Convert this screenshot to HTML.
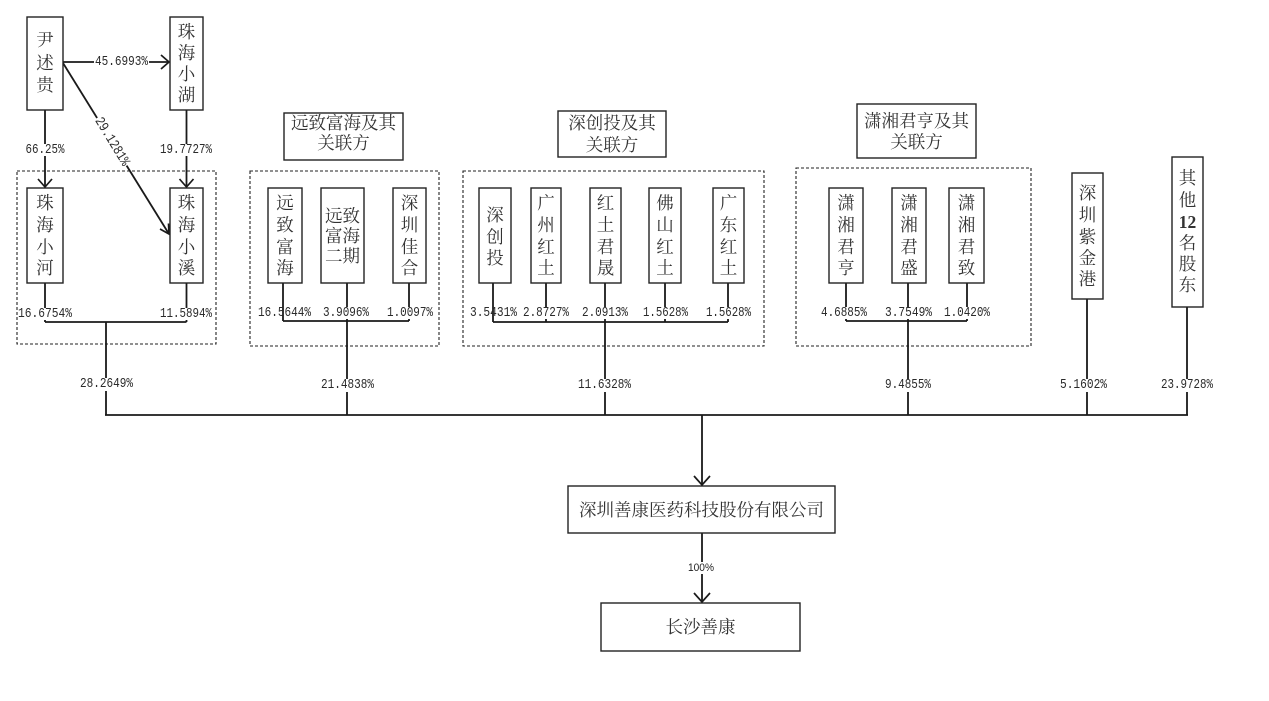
<!DOCTYPE html>
<html><head><meta charset="utf-8">
<style>
html,body{margin:0;padding:0;background:#fff;}
svg{display:block;}
.c{font-family:"Liberation Serif","Noto Serif CJK SC",serif;font-size:17.5px;fill:#333;text-anchor:middle;dominant-baseline:central;}
.p{font-family:"Liberation Mono","Noto Sans CJK SC",monospace;font-size:14px;fill:#2a2a2a;text-anchor:middle;dominant-baseline:central;}
.box{fill:#fff;stroke:#222;stroke-width:1.4;}
.dash{fill:none;stroke:#222;stroke-width:1.1;stroke-dasharray:3 2;}
.ln{stroke:#1a1a1a;stroke-width:1.8;fill:none;}
.ar{stroke:#1a1a1a;stroke-width:1.7;fill:none;stroke-linejoin:miter;}
.wb{fill:#fff;}
</style></head>
<body>
<svg width="1269" height="701" viewBox="0 0 1269 701" xmlns="http://www.w3.org/2000/svg">
<!-- dashed groups -->
<rect class="dash" x="17" y="171" width="199" height="173"/>
<rect class="dash" x="250" y="171" width="189" height="175"/>
<rect class="dash" x="463" y="171" width="301" height="175"/>
<rect class="dash" x="796" y="168" width="235" height="178"/>

<!-- connectors -->
<line class="ln" x1="63" y1="62" x2="169" y2="62"/>
<polyline class="ar" points="161,55 169,62 161,69"/>
<line class="ln" x1="45" y1="110" x2="45" y2="187"/>
<polyline class="ar" points="38,179 45,187 52,179"/>
<line class="ln" x1="186.5" y1="110" x2="186.5" y2="187"/>
<polyline class="ar" points="179.5,179 186.5,187 193.5,179"/>
<line class="ln" x1="63" y1="63" x2="169" y2="234"/>
<polyline class="ar" points="168.5,223.5 169,234 160,229"/>

<line class="ln" x1="45" y1="283" x2="45" y2="322"/>
<line class="ln" x1="186.5" y1="283" x2="186.5" y2="322"/>
<line class="ln" x1="45" y1="322" x2="186.5" y2="322"/>
<line class="ln" x1="106" y1="322" x2="106" y2="415"/>

<line class="ln" x1="283" y1="283" x2="283" y2="321"/>
<line class="ln" x1="347" y1="283" x2="347" y2="415"/>
<line class="ln" x1="409" y1="283" x2="409" y2="321"/>
<line class="ln" x1="283" y1="321" x2="409" y2="321"/>

<line class="ln" x1="493" y1="283" x2="493" y2="322"/>
<line class="ln" x1="546" y1="283" x2="546" y2="322"/>
<line class="ln" x1="605" y1="283" x2="605" y2="415"/>
<line class="ln" x1="665" y1="283" x2="665" y2="322"/>
<line class="ln" x1="728" y1="283" x2="728" y2="322"/>
<line class="ln" x1="493" y1="322" x2="728" y2="322"/>

<line class="ln" x1="846" y1="283" x2="846" y2="321"/>
<line class="ln" x1="908" y1="283" x2="908" y2="415"/>
<line class="ln" x1="967" y1="283" x2="967" y2="321"/>
<line class="ln" x1="846" y1="321" x2="967" y2="321"/>

<line class="ln" x1="1087" y1="299" x2="1087" y2="415"/>
<line class="ln" x1="1187" y1="307" x2="1187" y2="415"/>

<line class="ln" x1="105" y1="415" x2="1188" y2="415"/>
<line class="ln" x1="702" y1="415" x2="702" y2="485"/>
<polyline class="ar" points="694,476 702,485 710,476"/>
<line class="ln" x1="702" y1="533" x2="702" y2="602"/>
<polyline class="ar" points="694,593 702,602 710,593"/>

<!-- boxes -->
<rect class="box" x="27" y="17" width="36" height="93"/>
<rect class="box" x="170" y="17" width="33" height="93"/>
<rect class="box" x="27" y="188" width="36" height="95"/>
<rect class="box" x="170" y="188" width="33" height="95"/>
<rect class="box" x="284" y="113" width="119" height="47"/>
<rect class="box" x="268" y="188" width="34" height="95"/>
<rect class="box" x="321" y="188" width="43" height="95"/>
<rect class="box" x="393" y="188" width="33" height="95"/>
<rect class="box" x="558" y="111" width="108" height="46"/>
<rect class="box" x="479" y="188" width="32" height="95"/>
<rect class="box" x="531" y="188" width="30" height="95"/>
<rect class="box" x="590" y="188" width="31" height="95"/>
<rect class="box" x="649" y="188" width="32" height="95"/>
<rect class="box" x="713" y="188" width="31" height="95"/>
<rect class="box" x="857" y="104" width="119" height="54"/>
<rect class="box" x="829" y="188" width="34" height="95"/>
<rect class="box" x="892" y="188" width="34" height="95"/>
<rect class="box" x="949" y="188" width="35" height="95"/>
<rect class="box" x="1072" y="173" width="31" height="126"/>
<rect class="box" x="1172" y="157" width="31" height="150"/>
<rect class="box" x="568" y="486" width="267" height="47"/>
<rect class="box" x="601" y="603" width="199" height="48"/>

<!-- box text -->
<text class="c" x="45" y="40">尹</text><text class="c" x="45" y="63">述</text><text class="c" x="45" y="85">贵</text>
<text class="c" x="186.5" y="32">珠</text><text class="c" x="186.5" y="53">海</text><text class="c" x="186.5" y="74">小</text><text class="c" x="186.5" y="95">湖</text>
<text class="c" x="45" y="203">珠</text><text class="c" x="45" y="225">海</text><text class="c" x="45" y="247">小</text><text class="c" x="45" y="268">河</text>
<text class="c" x="186.5" y="203">珠</text><text class="c" x="186.5" y="225">海</text><text class="c" x="186.5" y="247">小</text><text class="c" x="186.5" y="268">溪</text>

<text class="c" x="343.5" y="123">远致富海及其</text><text class="c" x="343.5" y="143">关联方</text>
<text class="c" x="285" y="203">远</text><text class="c" x="285" y="225">致</text><text class="c" x="285" y="247">富</text><text class="c" x="285" y="268">海</text>
<text class="c" x="342.5" y="216">远致</text><text class="c" x="342.5" y="236">富海</text><text class="c" x="342.5" y="256">二期</text>
<text class="c" x="409.5" y="203">深</text><text class="c" x="409.5" y="225">圳</text><text class="c" x="409.5" y="247">佳</text><text class="c" x="409.5" y="268">合</text>

<text class="c" x="612" y="123">深创投及其</text><text class="c" x="612" y="145">关联方</text>
<text class="c" x="495" y="215">深</text><text class="c" x="495" y="237">创</text><text class="c" x="495" y="258">投</text>
<text class="c" x="546" y="203">广</text><text class="c" x="546" y="225">州</text><text class="c" x="546" y="247">红</text><text class="c" x="546" y="268">土</text>
<text class="c" x="605.5" y="203">红</text><text class="c" x="605.5" y="225">土</text><text class="c" x="605.5" y="247">君</text><text class="c" x="605.5" y="268">晟</text>
<text class="c" x="665" y="203">佛</text><text class="c" x="665" y="225">山</text><text class="c" x="665" y="247">红</text><text class="c" x="665" y="268">土</text>
<text class="c" x="728.5" y="203">广</text><text class="c" x="728.5" y="225">东</text><text class="c" x="728.5" y="247">红</text><text class="c" x="728.5" y="268">土</text>

<text class="c" x="916.5" y="121">潇湘君亨及其</text><text class="c" x="916.5" y="142">关联方</text>
<text class="c" x="846" y="203">潇</text><text class="c" x="846" y="225">湘</text><text class="c" x="846" y="247">君</text><text class="c" x="846" y="268">亨</text>
<text class="c" x="909" y="203">潇</text><text class="c" x="909" y="225">湘</text><text class="c" x="909" y="247">君</text><text class="c" x="909" y="268">盛</text>
<text class="c" x="966.5" y="203">潇</text><text class="c" x="966.5" y="225">湘</text><text class="c" x="966.5" y="247">君</text><text class="c" x="966.5" y="268">致</text>

<text class="c" x="1087.5" y="193">深</text><text class="c" x="1087.5" y="215">圳</text><text class="c" x="1087.5" y="237">紫</text><text class="c" x="1087.5" y="258">金</text><text class="c" x="1087.5" y="279">港</text>
<text class="c" x="1187.5" y="178">其</text><text class="c" x="1187.5" y="200">他</text><text class="c" x="1187.5" y="222" style="font-weight:bold">12</text><text class="c" x="1187.5" y="243">名</text><text class="c" x="1187.5" y="264">股</text><text class="c" x="1187.5" y="285">东</text>

<text class="c" x="701.5" y="510">深圳善康医药科技股份有限公司</text>
<text class="c" x="700.5" y="627">长沙善康</text>

<!-- percentage labels -->
<rect class="wb" x="94" y="56" width="55" height="12"/><text class="p" x="121.5" y="62" textLength="53" lengthAdjust="spacingAndGlyphs">45.6993%</text>
<rect class="wb" x="25" y="144" width="40" height="12"/><text class="p" x="45" y="150" textLength="39" lengthAdjust="spacingAndGlyphs">66.25%</text>
<rect class="wb" x="159" y="144" width="54" height="12"/><text class="p" x="186" y="150" textLength="52" lengthAdjust="spacingAndGlyphs">19.7727%</text>
<g transform="translate(111.5,142) rotate(58.5)"><rect class="wb" x="-28" y="-6" width="56" height="12"/><text class="p" x="0" y="0" textLength="54" lengthAdjust="spacingAndGlyphs">29.1281%</text></g>

<rect class="wb" x="18" y="308" width="54" height="12"/><text class="p" x="45" y="314" textLength="54" lengthAdjust="spacingAndGlyphs">16.6754%</text>
<rect class="wb" x="160" y="308" width="53" height="12"/><text class="p" x="186" y="314" textLength="52" lengthAdjust="spacingAndGlyphs">11.5894%</text>
<rect class="wb" x="79" y="378" width="55" height="13"/><text class="p" x="106.5" y="384" textLength="53" lengthAdjust="spacingAndGlyphs">28.2649%</text>

<text class="p" x="284.5" y="313" textLength="53" lengthAdjust="spacingAndGlyphs">16.5644%</text>
<rect class="wb" x="322" y="307" width="48" height="12"/><text class="p" x="346" y="313" textLength="46" lengthAdjust="spacingAndGlyphs">3.9096%</text>
<rect class="wb" x="386" y="307" width="48" height="12"/><text class="p" x="410" y="313" textLength="46" lengthAdjust="spacingAndGlyphs">1.0097%</text>
<rect class="wb" x="320" y="379" width="55" height="13"/><text class="p" x="347.5" y="385" textLength="53" lengthAdjust="spacingAndGlyphs">21.4838%</text>

<text class="p" x="493.5" y="313" textLength="47" lengthAdjust="spacingAndGlyphs">3.5431%</text>
<rect class="wb" x="522" y="307" width="48" height="12"/><text class="p" x="546" y="313" textLength="46" lengthAdjust="spacingAndGlyphs">2.8727%</text>
<rect class="wb" x="581" y="307" width="48" height="12"/><text class="p" x="605" y="313" textLength="46" lengthAdjust="spacingAndGlyphs">2.0913%</text>
<rect class="wb" x="642" y="307" width="47" height="12"/><text class="p" x="665.5" y="313" textLength="45" lengthAdjust="spacingAndGlyphs">1.5628%</text>
<rect class="wb" x="705" y="307" width="47" height="12"/><text class="p" x="728.5" y="313" textLength="45" lengthAdjust="spacingAndGlyphs">1.5628%</text>
<rect class="wb" x="577" y="379" width="55" height="13"/><text class="p" x="604.5" y="385" textLength="53" lengthAdjust="spacingAndGlyphs">11.6328%</text>

<rect class="wb" x="820" y="307" width="48" height="12"/><text class="p" x="844" y="313" textLength="46" lengthAdjust="spacingAndGlyphs">4.6885%</text>
<rect class="wb" x="884" y="307" width="49" height="12"/><text class="p" x="908.5" y="313" textLength="47" lengthAdjust="spacingAndGlyphs">3.7549%</text>
<rect class="wb" x="943" y="307" width="48" height="12"/><text class="p" x="967" y="313" textLength="46" lengthAdjust="spacingAndGlyphs">1.0420%</text>
<rect class="wb" x="884" y="379" width="48" height="13"/><text class="p" x="908" y="385" textLength="46" lengthAdjust="spacingAndGlyphs">9.4855%</text>

<rect class="wb" x="1059" y="379" width="49" height="13"/><text class="p" x="1083.5" y="385" textLength="47" lengthAdjust="spacingAndGlyphs">5.1602%</text>
<rect class="wb" x="1160" y="379" width="54" height="13"/><text class="p" x="1187" y="385" textLength="52" lengthAdjust="spacingAndGlyphs">23.9728%</text>

<rect class="wb" x="687" y="562" width="29" height="12"/><text x="701" y="568" style="font-family:'Liberation Sans',sans-serif;font-size:11px;fill:#222;text-anchor:middle;dominant-baseline:central" textLength="26" lengthAdjust="spacingAndGlyphs">100%</text>
</svg>
</body></html>
